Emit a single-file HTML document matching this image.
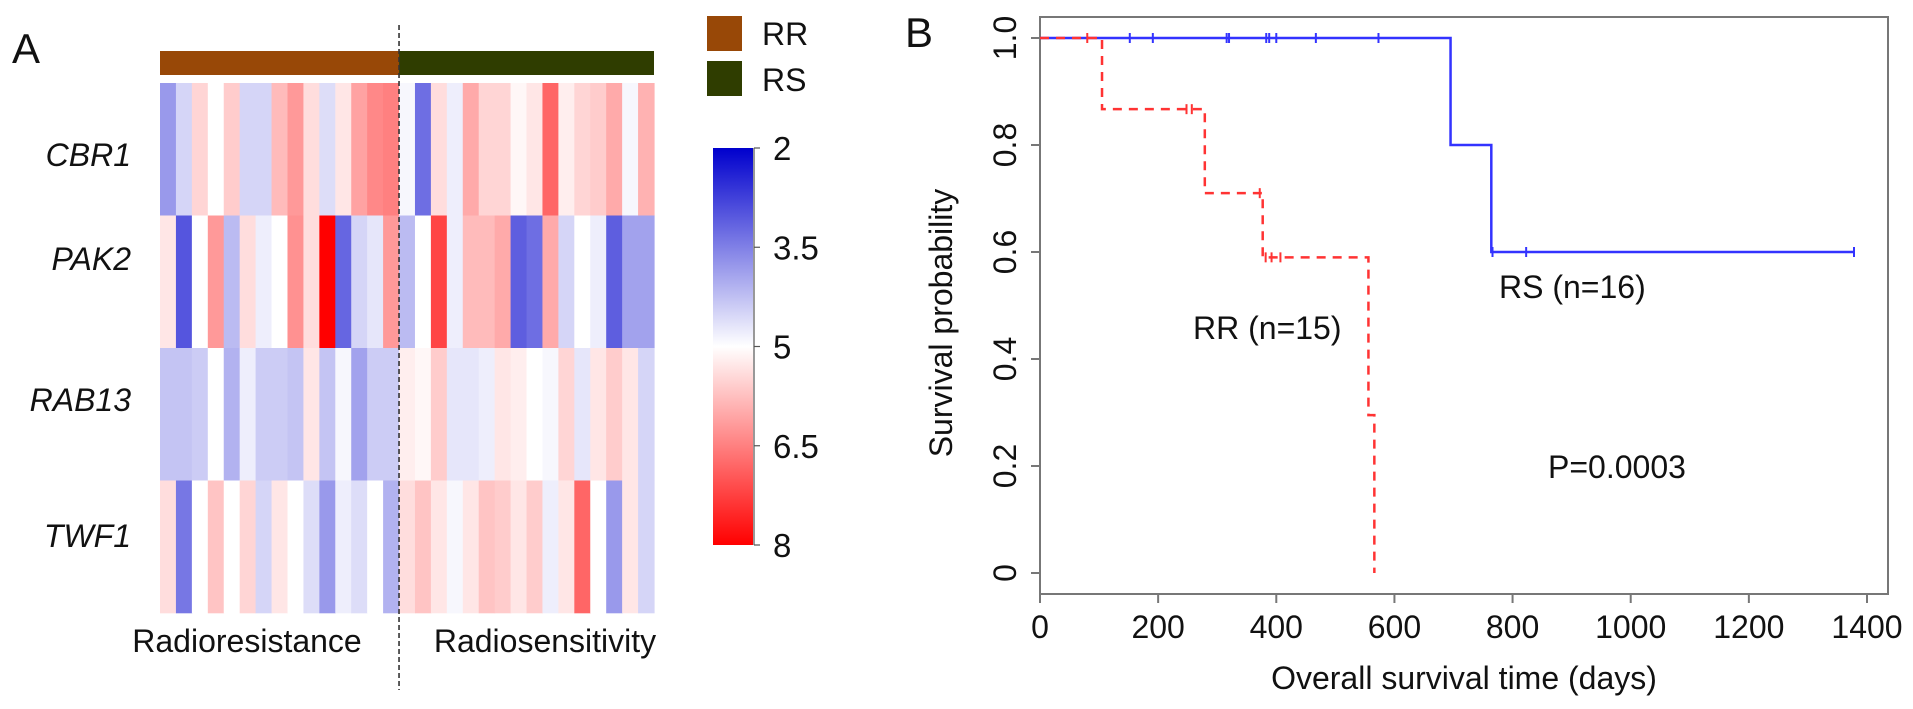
<!DOCTYPE html>
<html><head><meta charset="utf-8">
<style>
html,body{margin:0;padding:0;background:#fff;}
svg{display:block;font-family:"Liberation Sans",sans-serif;}
</style></head>
<body>
<svg id="fig" width="1913" height="709" viewBox="0 0 1913 709" xmlns="http://www.w3.org/2000/svg">
<rect width="1913" height="709" fill="#fff"/>
<text x="12" y="63" font-size="42" fill="#111">A</text>
<text x="905" y="47" font-size="42" fill="#111">B</text>
<g id="heat"></g>
<g id="km"></g>
</svg>
<script>
// ---------- Heatmap data ----------
const genes = ["CBR1","PAK2","RAB13","TWF1"];
const rrCBR1  = [3.8,4.5,5.5,5.0,5.6,4.5,4.5,5.8,6.2,5.4,4.6,5.3,6.1,6.4,6.5];
const rrPAK2  = [5.3,3.0,5.0,6.2,4.2,5.4,4.8,5.0,6.3,5.4,8.0,3.2,4.5,4.7,6.2];
const rrRAB13 = [4.3,4.3,4.4,5.0,4.1,4.8,4.4,4.4,4.3,5.3,4.3,4.9,3.9,4.4,4.4];
const rrTWF1  = [5.4,3.4,5.0,5.7,5.0,5.5,4.5,5.3,5.0,4.6,3.8,4.8,4.6,5.0,4.1];
const rsCBR1  = [4.9,3.3,5.4,4.8,6.0,5.5,5.5,5.1,5.3,6.8,5.2,5.5,5.6,6.0,4.9,5.9];
const rsPAK2  = [4.2,5.0,7.2,4.8,5.8,5.8,6.0,3.1,3.3,6.0,4.5,5.0,4.8,3.1,3.9,3.9];
const rsRAB13 = [5.2,5.1,5.6,4.7,4.7,4.8,5.3,5.2,5.0,4.9,5.5,4.7,5.3,5.6,5.3,4.5];
const rsTWF1  = [5.4,5.7,5.3,4.9,5.3,5.7,5.6,5.3,5.6,4.8,5.3,6.8,5.0,3.8,5.3,4.5];
const colorTicks = ["2","3.5","5","6.5","8"];

// ---------- Survival data ----------
const xTicks = [0,200,400,600,800,1000,1200,1400];
const yTicks = [0,0.2,0.4,0.6,0.8,1.0];
const yTickLabels = ["0","0.2","0.4","0.6","0.8","1.0"];
const rrTimes = [0,105,279,377,556,566];
const rrSurv  = [1,0.867,0.71,0.59,0.295,0];
const rrEnd = 566;
const rrCensor = [80,248,257,372,382,392,407];
const rsTimes = [0,695,764];
const rsSurv  = [1,0.8,0.6];
const rsEnd = 1378;
const rsCensor = [152,191,316,320,383,388,400,467,573,766,823,1378];

const NS="http://www.w3.org/2000/svg";
function mk(tag,attrs,parent){const e=document.createElementNS(NS,tag);for(const k in attrs)e.setAttribute(k,attrs[k]);parent.appendChild(e);return e;}

function valColor(v){
  if(v<=5){const t=Math.min(1,(5-v)/3);return `rgb(${Math.round(255-255*t)},${Math.round(255-255*t)},${Math.round(255-50*t)})`;}
  const t=Math.min(1,(v-5)/3);return `rgb(255,${Math.round(255-255*t)},${Math.round(255-255*t)})`;
}

// ---------- Heatmap ----------
const heat=document.getElementById('heat');
const hx0=160,hx1=654,hy0=83,hy1=613;
const rrRows=[rrCBR1,rrPAK2,rrRAB13,rrTWF1];
const rsRows=[rsCBR1,rsPAK2,rsRAB13,rsTWF1];
const nCols=rrCBR1.length+rsCBR1.length;
const cw=(hx1-hx0)/nCols, rh=(hy1-hy0)/genes.length;
genes.forEach((g,r)=>{
  const vals=rrRows[r].concat(rsRows[r]);
  vals.forEach((v,c)=>{
    const cell=mk('rect',{x:hx0+c*cw,y:hy0+r*rh,width:cw+0.6,height:rh+0.3,fill:valColor(v)},heat);
    
    
  });
});
const labelY=[155,259,400,536];
genes.forEach((g,r)=>{
  const t=mk('text',{x:131,y:labelY[r]+11,'font-size':32,'font-style':'italic','text-anchor':'end',fill:'#111'},heat);
  t.textContent=g;
  
  
});
const split=hx0+rrCBR1.length*cw;
let a=mk('rect',{x:hx0,y:51,width:split-hx0,height:24,fill:'#984807'},heat);


a=mk('rect',{x:split,y:51,width:hx1-split,height:24,fill:'#2f3d00'},heat);


a=mk('line',{x1:split,y1:25,x2:split,y2:690,stroke:'#333','stroke-width':1.6,'stroke-dasharray':'5,3'},heat);


a=mk('text',{x:247,y:652,'font-size':32,'text-anchor':'middle',fill:'#111'},heat);a.textContent='Radioresistance';


a=mk('text',{x:545,y:652,'font-size':32,'text-anchor':'middle',fill:'#111'},heat);a.textContent='Radiosensitivity';


// legend
a=mk('rect',{x:707,y:16,width:35,height:35,fill:'#984807'},heat);


a=mk('text',{x:762,y:45,'font-size':32,fill:'#111'},heat);a.textContent='RR';


a=mk('rect',{x:707,y:61,width:35,height:35,fill:'#2f3d00'},heat);


a=mk('text',{x:762,y:91,'font-size':32,fill:'#111'},heat);a.textContent='RS';


// colorbar
const defs=mk('defs',{},heat);
const grad=mk('linearGradient',{id:'cb',x1:0,y1:0,x2:0,y2:1},defs);
[2,3.5,5,6.5,8].forEach((v,i)=>mk('stop',{offset:i/4,'stop-color':valColor(v)},grad));
const cbTop=148,cbBot=545;
a=mk('rect',{x:713,y:cbTop,width:40,height:cbBot-cbTop,fill:'url(#cb)'},heat);


mk('line',{x1:754,y1:cbTop,x2:754,y2:cbBot,stroke:'#555','stroke-width':1.2},heat);
colorTicks.forEach((lab,i)=>{
  const y=cbTop+i*(cbBot-cbTop)/(colorTicks.length-1);
  mk('line',{x1:754,y1:y,x2:760,y2:y,stroke:'#555','stroke-width':1.2},heat);
  const t=mk('text',{x:773,y:y+12,'font-size':33,fill:'#111'},heat);t.textContent=lab;
  
  
});

// ---------- KM plot ----------
const km=document.getElementById('km');
const px0=1040,px1=1888,py0=17,py1=594;
const xs=d=>1040+d*(1867-1040)/1400;
const ys=s=>573-s*535;
a=mk('rect',{x:px0,y:py0,width:px1-px0,height:py1-py0,fill:'none',stroke:'#777','stroke-width':2},km);


xTicks.forEach(v=>{
  const x=xs(v);
  mk('line',{x1:x,y1:py1,x2:x,y2:py1+9,stroke:'#777','stroke-width':2},km);
  const t=mk('text',{x:x,y:638,'font-size':32,'text-anchor':'middle',fill:'#111'},km);t.textContent=String(v);
  
  
});
yTicks.forEach((v,i)=>{
  const y=ys(v);
  mk('line',{x1:px0,y1:y,x2:px0-9,y2:y,stroke:'#777','stroke-width':2},km);
  const t=mk('text',{x:0,y:0,'font-size':32,'text-anchor':'middle',fill:'#111',transform:`translate(1016,${y}) rotate(-90)`},km);t.textContent=yTickLabels[i];
  
  
});
a=mk('text',{x:1464,y:689,'font-size':32,'text-anchor':'middle',fill:'#111'},km);a.textContent='Overall survival time (days)';


a=mk('text',{x:0,y:0,'font-size':32,'text-anchor':'middle',fill:'#111',transform:'translate(952,323) rotate(-90)'},km);a.textContent='Survival probability';



function stepPath(times,surv,end){
  let d=`M${xs(times[0])},${ys(surv[0])}`;
  for(let i=1;i<times.length;i++){d+=` H${xs(times[i])} V${ys(surv[i])}`;}
  d+=` H${xs(end)}`;return d;
}
function survAt(times,surv,t){let s=surv[0];for(let i=0;i<times.length;i++)if(times[i]<=t)s=surv[i];return s;}

a=mk('path',{d:stepPath(rsTimes,rsSurv,rsEnd),fill:'none',stroke:'#3333ff','stroke-width':2.5},km);


rsCensor.forEach(t=>{
  const m=mk('line',{x1:xs(t),x2:xs(t),y1:ys(survAt(rsTimes,rsSurv,t))-5,y2:ys(survAt(rsTimes,rsSurv,t))+5,stroke:'#3333ff','stroke-width':2},km);
  
  
});
a=mk('path',{d:stepPath(rrTimes,rrSurv,rrEnd),fill:'none',stroke:'#ff3333','stroke-width':2.5,'stroke-dasharray':'9,7'},km);


rrCensor.forEach(t=>{
  const m=mk('line',{x1:xs(t),x2:xs(t),y1:ys(survAt(rrTimes,rrSurv,t))-5,y2:ys(survAt(rrTimes,rrSurv,t))+5,stroke:'#ff3333','stroke-width':2},km);
  
  
});
a=mk('text',{x:1499,y:298,'font-size':32,fill:'#111'},km);a.textContent='RS (n=16)';


a=mk('text',{x:1193,y:339,'font-size':32,fill:'#111'},km);a.textContent='RR (n=15)';


a=mk('text',{x:1548,y:478,'font-size':32,fill:'#111'},km);a.textContent='P=0.0003';


</script>
</body></html>
